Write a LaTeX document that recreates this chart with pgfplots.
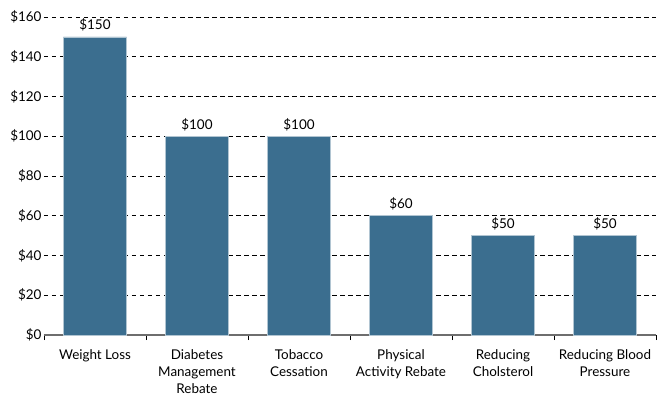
\documentclass[border=0pt]{standalone}
\usepackage{pgfplots}
\pgfplotsset{compat=1.18}
\usepackage{fontspec}
\setmainfont{Lato}
\definecolor{barc}{HTML}{3B6E8F}
\definecolor{axc}{HTML}{6E6E6E}
\begin{document}
\begin{tikzpicture}
\begin{axis}[
  scale only axis,
  width=612bp, height=318bp,
  ymin=0, ymax=160,
  xmin=-0.5, xmax=5.5,
  ytick={0,20,...,160},
  yticklabel={\$\pgfmathprintnumber{\tick}},
  /pgf/number format/assume math mode=true,
  xtick={0,1,2,3,4,5},
  xticklabels={Weight Loss, Diabetes\\Management\\Rebate, Tobacco\\Cessation, Physical\\Activity Rebate, Reducing\\Cholsterol, Reducing Blood\\Pressure},
  xticklabel style={align=center, font=\fontsize{13.5}{17}\selectfont, yshift=-11bp},
  yticklabel style={font=\fontsize{13.5}{15}\selectfont, xshift=1bp},
  major tick length=0pt,
  minor xtick={-0.5,0.5,...,5.5},
  minor tick length=5bp,
  tick align=outside,
  xtick pos=bottom,
  ytick pos=left,
  minor x tick style={black, line width=0.8bp},
  axis x line*=bottom,
  axis y line*=left,
  y axis line style={draw=none},
  x axis line style={axc, line width=1.5bp, -},
  ymajorgrids,
  major grid style={black, dash pattern=on 4.5bp off 3.5bp, line width=0.7bp},
  ybar, bar width=0.62,
  nodes near coords={\$\pgfmathprintnumber{\pgfplotspointmeta}},
  nodes near coords style={font=\fontsize{13.5}{15}\selectfont, yshift=2bp},
  clip=false,
]
\addplot[fill=barc, draw=barc!40!white, line width=0.6bp] coordinates {(0,150) (1,100) (2,100) (3,60) (4,50) (5,50)};
\end{axis}
\pgfresetboundingbox
\path[use as bounding box] (-44bp,-60bp) rectangle (613bp,335bp);
\end{tikzpicture}
\end{document}
